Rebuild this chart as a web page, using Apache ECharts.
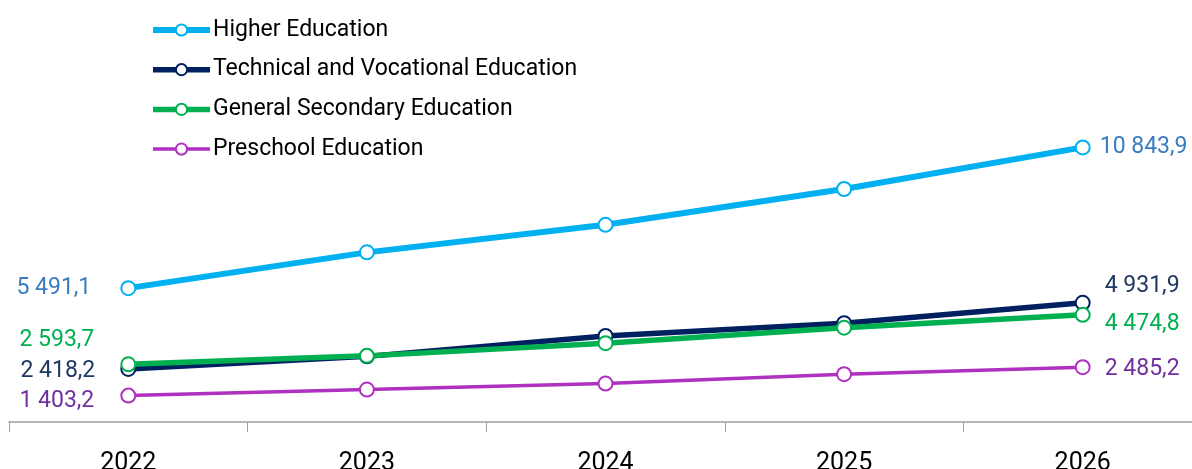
<!DOCTYPE html>
<html>
<head>
<meta charset="utf-8">
<script src="https://cdn.jsdelivr.net/npm/echarts@6/dist/echarts.min.js"></script>
<style>
  html, body { margin: 0; padding: 0; background: #ffffff; overflow: hidden; }
  #chart { width: 1215px; height: 469px; }
</style>
</head>
<body>
<div id="chart"></div>
<script>
// ---- data ----
const categories = ['2022', '2023', '2024', '2025', '2026'];
const seriesNames = ['Higher Education', 'Technical and Vocational Education', 'General Secondary Education', 'Preschool Education'];
const higher = [5491.1, 6852, 7900, 9261, 10843.9];
const technical = [2418.2, 2896, 3672, 4158, 4931.9];
const general = [2593.7, 2915, 3397, 3986, 4474.8];
const preschool = [1403.2, 1632, 1862, 2218, 2485.2];

// ---- styling ----
const lineColors = ['#00b0f0', '#002060', '#00b050', '#b030c0'];
const labelColors = ['#3a7cc0', '#1f3864', '#00b050', '#7030a0'];
const lineWidths = [6, 5.5, 5.5, 3.5];
// [distance, dy] for first (left) and last (right) labels
const leftLabel = [[29, 0], [25, 2], [26, -24], [26, 6]];
const rightLabel = [[9, 0], [14, -17], [14, 9], [14, 2]];

function fmt(v) {
  const s = v.toFixed(1).split('.');
  const int = s[0].replace(/\B(?=(\d{3})+(?!\d))/g, ' ');
  return int + ',' + s[1];
}

function build(values, i) {
  return values.map((v, k) => {
    if (k === 0) {
      return { value: v, label: { show: true, position: 'left', distance: leftLabel[i][0], offset: [0, leftLabel[i][1]] } };
    }
    if (k === values.length - 1) {
      return { value: v, label: { show: true, position: 'right', distance: rightLabel[i][0], offset: [0, rightLabel[i][1]] } };
    }
    return { value: v };
  });
}

const allValues = [higher, technical, general, preschool];

const series = allValues.map((vals, i) => ({
  name: seriesNames[i],
  type: 'line',
  data: build(vals, i),
  symbol: 'emptyCircle',
  symbolSize: 14,
  showAllSymbol: true,
  z: i === 1 ? 2 : 3 + i,
  lineStyle: { color: lineColors[i], width: lineWidths[i] },
  itemStyle: { color: lineColors[i], borderWidth: 2 },
  label: {
    show: false,
    color: labelColors[i],
    fontFamily: 'Roboto',
    fontSize: 23,
    formatter: p => fmt(p.value)
  },
  emphasis: { disabled: true }
}));

const chart = echarts.init(document.getElementById('chart'), null, { renderer: 'canvas' });
chart.setOption({
  animation: false,
  backgroundColor: '#ffffff',
  legend: {
    orient: 'vertical',
    left: 150,
    top: 18,
    padding: 0,
    itemWidth: 57,
    itemHeight: 14,
    itemGap: 15.7,
    textStyle: { fontFamily: 'Roboto', fontSize: 23, color: '#000000', lineHeight: 24, padding: [0, 0, 0, -2] },
    data: seriesNames.map((n, i) => ({ name: n, lineStyle: { width: lineWidths[i] } }))
  },
  grid: { left: 9, width: 1193, top: 117, bottom: 47, containLabel: false, outerBoundsMode: 'none' },
  xAxis: {
    type: 'category',
    data: categories,
    boundaryGap: true,
    axisLine: { show: true, lineStyle: { color: '#a0a0a0', width: 1.5 } },
    axisTick: { show: true, inside: false, length: 10, lineStyle: { color: '#a0a0a0', width: 1 } },
    axisLabel: { color: '#000000', fontFamily: 'Roboto', fontSize: 25, margin: 29 },
    splitLine: { show: false }
  },
  yAxis: {
    type: 'value',
    min: 400,
    max: 12000,
    show: false,
    splitLine: { show: false }
  },
  series: series
});
</script>
</body>
</html>
